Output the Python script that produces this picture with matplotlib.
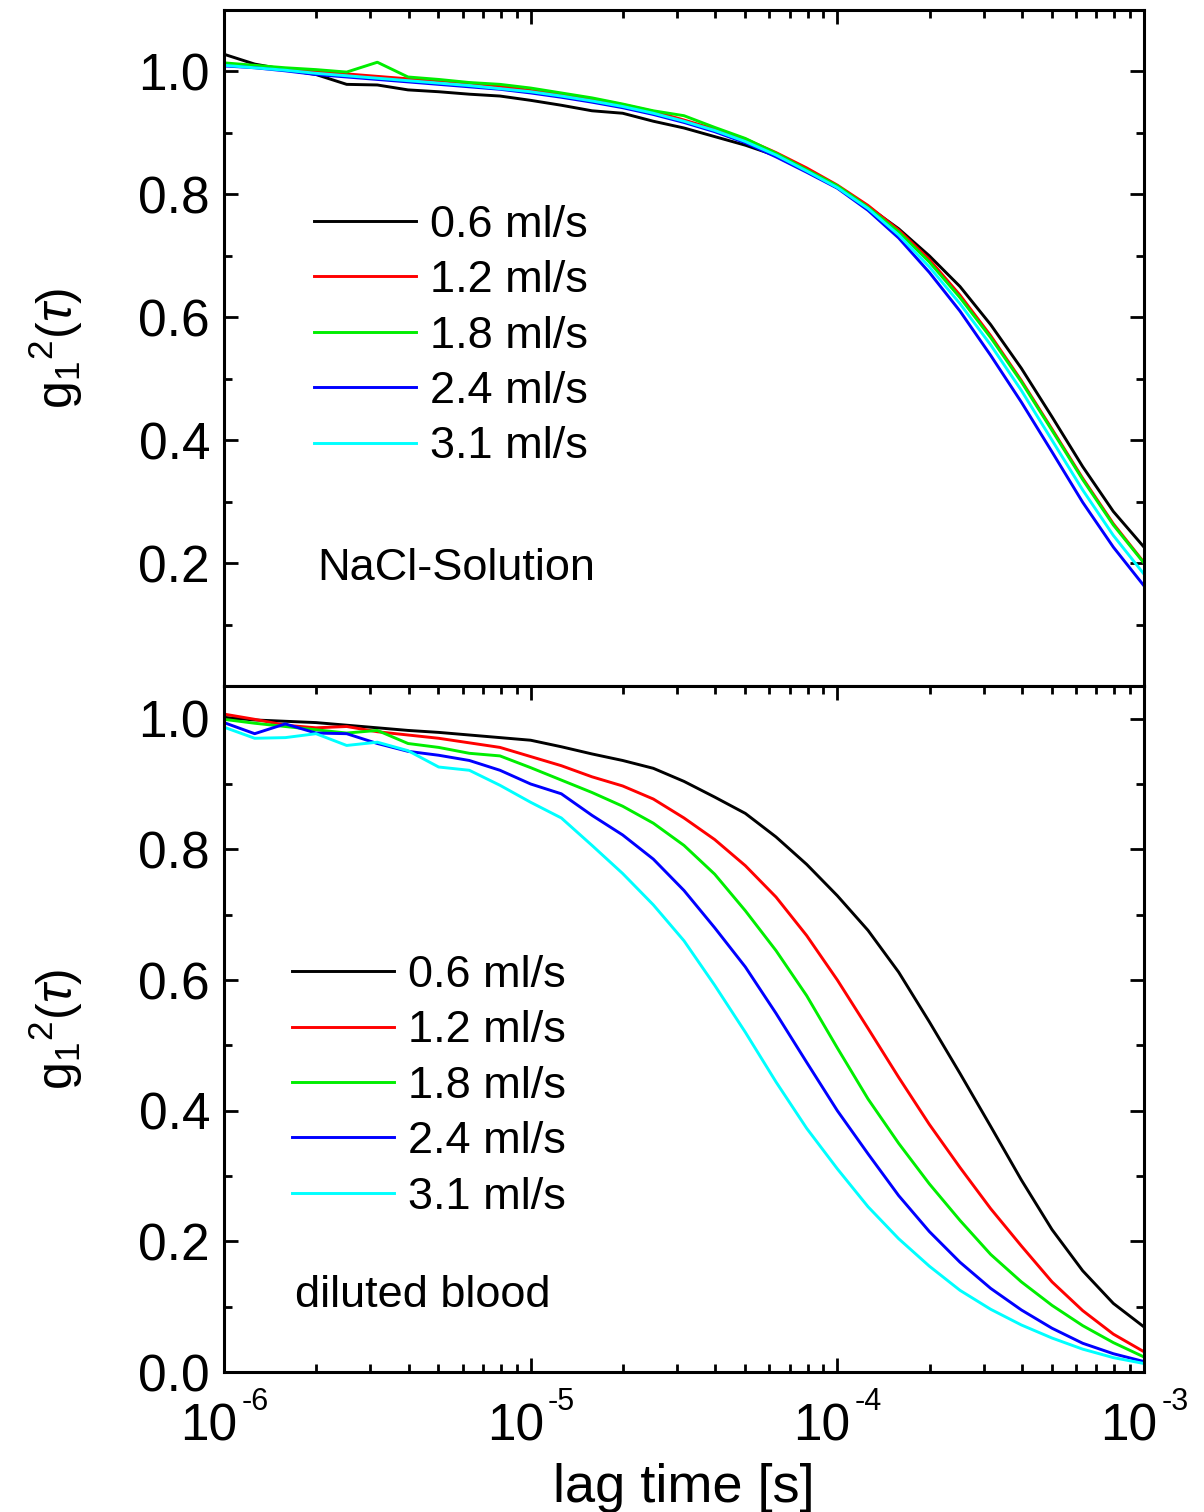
import numpy as np
import matplotlib
matplotlib.use("Agg")
import matplotlib.pyplot as plt
from matplotlib.ticker import LogLocator, FixedLocator, FixedFormatter, MultipleLocator, NullFormatter

plt.rcParams['font.family'] = ['Liberation Sans', 'DejaVu Sans']
plt.rcParams['mathtext.fontset'] = 'custom'
plt.rcParams['mathtext.rm'] = 'Liberation Sans'
plt.rcParams['mathtext.it'] = 'Liberation Sans:italic'
plt.rcParams['mathtext.bf'] = 'Liberation Sans:bold'
plt.rcParams['mathtext.default'] = 'regular'

# ---------------- data ----------------
log_tau = [-6.0, -5.9, -5.8, -5.7, -5.6, -5.5, -5.4, -5.3, -5.2, -5.1,
           -5.0, -4.9, -4.8, -4.7, -4.6, -4.5, -4.4, -4.3, -4.2, -4.1,
           -4.0, -3.9, -3.8, -3.7, -3.6, -3.5, -3.4, -3.3, -3.2, -3.1, -3.0]

labels = ["0.6 ml/s", "1.2 ml/s", "1.8 ml/s", "2.4 ml/s", "3.1 ml/s"]
colors = ["#000000", "#ff0000", "#00ee00", "#0000ff", "#00ffff"]

# NaCl-Solution (top panel)
nacl_06 = [1.028, 1.012, 1.003, 0.995, 0.979, 0.978, 0.970, 0.967, 0.963, 0.960,
           0.953, 0.945, 0.936, 0.932, 0.919, 0.908, 0.894, 0.880, 0.863, 0.840,
           0.811, 0.780, 0.744, 0.700, 0.650, 0.588, 0.517, 0.438, 0.357, 0.284, 0.226]
nacl_12 = [1.012, 1.008, 1.004, 1.000, 0.996, 0.992, 0.988, 0.985, 0.981, 0.976,
           0.969, 0.963, 0.955, 0.946, 0.935, 0.921, 0.906, 0.890, 0.868, 0.843,
           0.815, 0.782, 0.742, 0.694, 0.636, 0.570, 0.497, 0.418, 0.338, 0.264, 0.201]
nacl_18 = [1.014, 1.010, 1.006, 1.003, 0.999, 1.015, 0.991, 0.987, 0.982, 0.979,
           0.973, 0.965, 0.957, 0.947, 0.936, 0.928, 0.909, 0.891, 0.867, 0.840,
           0.814, 0.779, 0.739, 0.690, 0.632, 0.567, 0.495, 0.416, 0.336, 0.262, 0.200]
nacl_24 = [1.009, 1.006, 1.001, 0.995, 0.991, 0.987, 0.983, 0.979, 0.975, 0.971,
           0.965, 0.958, 0.950, 0.941, 0.930, 0.917, 0.902, 0.884, 0.861, 0.836,
           0.810, 0.774, 0.729, 0.673, 0.610, 0.538, 0.462, 0.381, 0.299, 0.226, 0.163]
nacl_31 = [1.010, 1.006, 1.002, 0.997, 0.993, 0.989, 0.985, 0.981, 0.977, 0.972,
           0.967, 0.960, 0.952, 0.943, 0.932, 0.919, 0.904, 0.886, 0.864, 0.838,
           0.811, 0.777, 0.734, 0.682, 0.622, 0.555, 0.481, 0.400, 0.319, 0.245, 0.182]

# diluted blood (bottom panel)
blood_06 = [1.002, 0.998, 0.996, 0.994, 0.990, 0.986, 0.982, 0.979, 0.975, 0.971,
            0.967, 0.957, 0.946, 0.936, 0.924, 0.904, 0.880, 0.855, 0.819, 0.777,
            0.729, 0.676, 0.612, 0.536, 0.457, 0.376, 0.294, 0.218, 0.155, 0.105, 0.069]
blood_12 = [1.007, 0.999, 0.990, 0.986, 0.988, 0.980, 0.975, 0.970, 0.963, 0.956,
            0.942, 0.928, 0.911, 0.897, 0.877, 0.848, 0.815, 0.775, 0.727, 0.668,
            0.600, 0.526, 0.451, 0.379, 0.313, 0.250, 0.193, 0.138, 0.094, 0.058, 0.031]
blood_18 = [0.999, 0.993, 0.988, 0.983, 0.978, 0.982, 0.962, 0.956, 0.947, 0.943,
            0.925, 0.906, 0.887, 0.866, 0.840, 0.806, 0.762, 0.706, 0.645, 0.576,
            0.496, 0.418, 0.350, 0.288, 0.232, 0.180, 0.138, 0.102, 0.071, 0.045, 0.023]
blood_24 = [0.994, 0.977, 0.992, 0.978, 0.977, 0.962, 0.950, 0.944, 0.936, 0.921,
            0.900, 0.885, 0.852, 0.822, 0.785, 0.737, 0.680, 0.620, 0.549, 0.474,
            0.400, 0.334, 0.270, 0.215, 0.168, 0.128, 0.095, 0.067, 0.044, 0.028, 0.016]
blood_31 = [0.987, 0.970, 0.971, 0.977, 0.959, 0.964, 0.951, 0.926, 0.921, 0.898,
            0.872, 0.848, 0.806, 0.763, 0.715, 0.660, 0.592, 0.520, 0.444, 0.373,
            0.311, 0.253, 0.204, 0.162, 0.125, 0.096, 0.072, 0.052, 0.035, 0.022, 0.013]

xtick_vals = [1e-6, 1e-5, 1e-4, 1e-3]
xtick_exps = ["-6", "-5", "-4", "-3"]
top_yticks = [0.2, 0.4, 0.6, 0.8, 1.0]
top_ylabels = ["0.2", "0.4", "0.6", "0.8", "1.0"]
bot_yticks = [0.0, 0.2, 0.4, 0.6, 0.8, 1.0]
bot_ylabels = ["0.0", "0.2", "0.4", "0.6", "0.8", "1.0"]

tau = 10.0 ** np.array(log_tau)

# ---------------- figure ----------------
fig = plt.figure(figsize=(12.04, 15.12), dpi=100)
L, R = 224 / 1204, 1144 / 1204
ax1 = fig.add_axes([L, 1 - 686 / 1512, R - L, (686 - 10) / 1512])
ax2 = fig.add_axes([L, 1 - 1372 / 1512, R - L, (1372 - 686) / 1512])

lw = 2.1
for ax, series, text, tpos, yt, yl, ylim, legpos in [
        (ax1, [nacl_06, nacl_12, nacl_18, nacl_24, nacl_31], "NaCl-Solution",
         (0.101, 0.174), top_yticks, top_ylabels, (0.0, 1.1), (0.0978, 0.712)),
        (ax2, [blood_06, blood_12, blood_18, blood_24, blood_31], "diluted blood",
         (0.077, 0.112), bot_yticks, bot_ylabels, (0.0, 1.05), (0.0739, 0.608))]:
    for s, c, lab in zip(series, colors, labels):
        ax.plot(tau, s, color=c, lw=lw, label=lab)
    ax.set_xscale('log')
    ax.set_xlim(1e-6, 1e-3)
    ax.set_ylim(*ylim)
    ax.xaxis.set_major_locator(FixedLocator(xtick_vals))
    ax.xaxis.set_major_formatter(NullFormatter())
    ax.xaxis.set_minor_locator(LogLocator(base=10, subs=np.arange(2, 10), numticks=20))
    ax.xaxis.set_minor_formatter(NullFormatter())
    ax.yaxis.set_major_locator(FixedLocator(yt))
    ax.yaxis.set_major_formatter(FixedFormatter(yl))
    ax.yaxis.set_minor_locator(MultipleLocator(0.1))
    for sp in ax.spines.values():
        sp.set_linewidth(2.2)
    ax.tick_params(which='major', direction='in', length=10, width=2.0,
                   labelsize=37, top=True, right=True, pad=10)
    ax.tick_params(which='minor', direction='in', length=5.5, width=2.0,
                   top=True, right=True)
    ax.text(tpos[0], tpos[1], text, transform=ax.transAxes, fontsize=32.5,
            ha='left', va='center')
    leg = ax.legend(loc='upper left', bbox_to_anchor=legpos, frameon=False,
                    fontsize=32.5, handlelength=2.25, handletextpad=0.33,
                    labelspacing=0.32, borderpad=0, borderaxespad=0)
    for h in leg.get_lines():
        h.set_linewidth(lw)
    ax.set_ylabel(r'$\mathrm{g}_{1}{}^{2}(\mathit{\tau})$', fontsize=36)
    ax.yaxis.set_label_coords(-0.151, 0.5)

ax1.tick_params(axis='x', which='both', bottom=False, labelbottom=False)

# x tick labels of the lower panel: "10" with a raised exponent
for xv, ex in zip(xtick_vals, xtick_exps):
    ax2.annotate("10", xy=(xv, 0), xycoords=('data', 'axes fraction'),
                 xytext=(9.5, -49), textcoords='offset points',
                 ha='right', va='baseline', fontsize=37)
    ax2.annotate(ex, xy=(xv, 0), xycoords=('data', 'axes fraction'),
                 xytext=(12.5, -27.5), textcoords='offset points',
                 ha='left', va='baseline', fontsize=22)

fig.text(684 / 1204, 1 - 1502 / 1512, "lag time [s]", fontsize=39,
         ha='center', va='baseline')

fig.savefig("out.png", dpi=100)
